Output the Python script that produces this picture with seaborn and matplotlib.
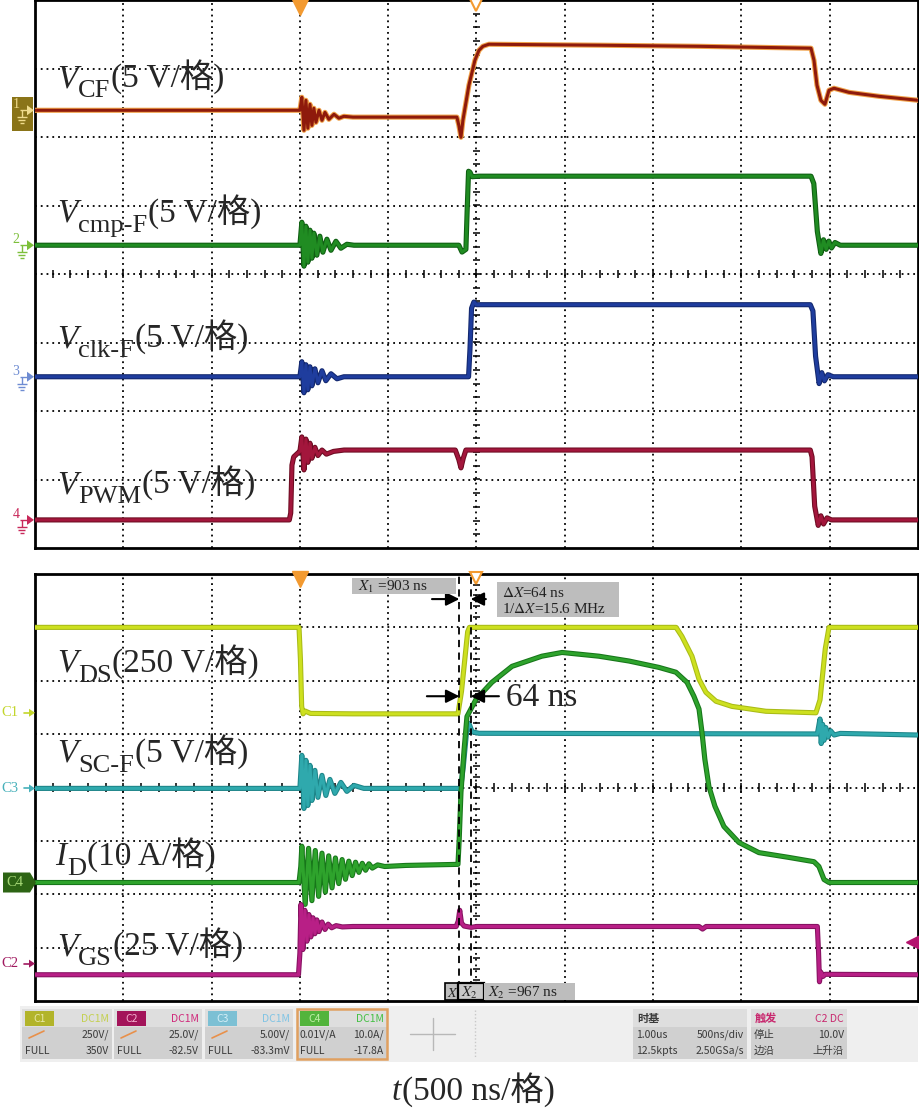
import numpy as np
import pandas as pd
import matplotlib
matplotlib.use("Agg")
import matplotlib.pyplot as plt
import matplotlib.patheffects as pe
from matplotlib.patches import Rectangle, Polygon
import seaborn as sns

sns.set_theme(style="white")
plt.rcParams["font.family"] = ["Liberation Serif", "Noto Sans CJK SC", "DejaVu Sans"]
plt.rcParams["mathtext.fontset"] = "stix"

# ------------------------------------------------------------------ data
# time in ns (0 = trigger), upper screen values in V (5 V/div)
cf_t = [-1500, -10, 0, 11, 23, 34, 45, 57, 68, 79, 91, 108, 125, 142, 164, 193, 221, 249, 300, 889,
        900, 912, 923, 957, 991, 1014, 1036, 1070, 1700, 2260, 2894, 2911, 2928, 2950, 2973, 2996,
        3024, 3109, 3279, 3500]
cf_v = [0, 0, 0, 0.95, -1.46, 0.73, -1.31, 0.44, -1.1, 0.15, -0.88, 0, -0.73, -0.15, -0.66, -0.29,
        -0.58, -0.44, -0.5, -0.5, -1.1, -1.97, -0.73, 1.83, 3.65, 4.38, 4.67, 4.82, 4.75, 4.67, 4.53,
        3.65, 1.83, 0.73, 0.44, 1.46, 1.61, 1.31, 1.02, 0.73]

cmp_t = [-1500, 0, 11, 23, 34, 45, 57, 68, 79, 96, 113, 130, 153, 176, 204, 232, 266, 306, 900, 918,
         940, 947, 955, 963, 975, 1014, 2894, 2910, 2930, 2950, 2965, 2980, 2995, 3010, 3030, 3060, 3500]
cmp_v = [0, 0, 1.68, -1.53, 1.39, -1.24, 1.1, -0.95, 0.88, -0.73, 0.66, -0.51, 0.44, -0.37, 0.29,
         -0.22, 0.07, 0, 0, -0.5, -0.3, 2.5, 5.4, 5.33, 5.0, 5.04, 5.04, 4.5, 1.0, -0.6, 0.4, -0.3,
         0.3, -0.2, 0.2, 0, 0]

clk_t = [-1500, 0, 11, 23, 34, 45, 57, 68, 85, 102, 125, 147, 176, 210, 249, 955, 963, 972, 985, 1000,
         2890, 2905, 2920, 2940, 2955, 2970, 2990, 3020, 3500]
clk_v = [0, 0, 1.1, -1.17, 0.88, -0.95, 0.73, -0.66, 0.58, -0.44, 0.44, -0.29, 0.22, -0.15, 0, 0,
         2.0, 5.0, 5.45, 5.26, 5.26, 4.8, 1.5, -0.5, 0.3, -0.3, 0.15, 0, 0]

pwm_t = [-1500, -60, -52, -45, -35, -10, 0, 11, 23, 34, 45, 57, 68, 85, 102, 125, 150, 190, 250, 880,
         900, 912, 925, 940, 2890, 2900, 2915, 2935, 2950, 2965, 2985, 3010, 3500]
pwm_v = [0, 0, 0.5, 4.0, 4.6, 4.9, 5.0, 6.06, 3.65, 5.9, 4.2, 5.6, 4.5, 5.3, 4.7, 5.1, 4.8, 5.0, 5.1,
         5.1, 4.4, 3.8, 4.5, 5.1, 5.1, 4.6, 1.0, -0.4, 0.3, -0.3, 0.15, 0, 0]

# lower screen
vds_t = [-1500, -5, 3, 10, 18, 30, 60, 300, 895, 915, 935, 950, 960, 2130, 2163, 2220, 2260, 2299,
         2356, 2446, 2639, 2922, 2945, 2975, 2996, 3500]
vds_v = [400, 400, 250, 30, -5, 8, -3, -5, -5, 100, 260, 380, 400, 400, 358, 265, 157, 96, 54, 30, 7,
         0, 60, 300, 400, 400]

vsc_t = [-1500, 0, 11, 23, 34, 45, 57, 68, 85, 102, 125, 147, 170, 198, 232, 266, 306, 362, 910, 925,
         945, 957, 975, 1014, 2930, 2945, 2952, 2960, 2968, 2978, 2990, 3005, 3025, 3060, 3500]
vsc_v = [0, 0, 3.1, -1.88, 2.63, -1.6, 2.16, -1.13, 1.69, -0.84, 1.22, -0.66, 0.84, -0.47, 0.56,
         -0.28, 0.28, 0, 0, 2.0, 5.5, 6.1, 5.3, 5.16, 5.1, 6.5, 4.2, 6.0, 4.5, 5.7, 4.8, 5.4, 5.0,
         5.15, 5.0]

id_t = [-1500, -5, 5, 11, 30, 49, 68, 87, 106, 125, 144, 163, 182, 201, 220, 239, 258, 277, 296, 315,
        334, 353, 372, 391, 410, 440, 480, 600, 895, 902, 912, 930, 946, 997, 1087, 1201, 1370, 1484,
        1693, 1863, 2033, 2129, 2192, 2231, 2260, 2277, 2293, 2316, 2350, 2401, 2486, 2599, 2769,
        2911, 2939, 2968, 2996, 3500]
id_v = [0, 0, 3.0, 6.8, -4.1, 6.4, -3.4, 6.0, -2.6, 5.5, -1.8, 5.0, -1.0, 4.6, -0.2, 4.3, 0.6, 4.0,
        1.3, 3.8, 1.9, 3.6, 2.3, 3.5, 2.7, 3.3, 3.0, 3.2, 3.4, 8.0, 16.9, 25.0, 31.1, 34.3, 37.5,
        40.5, 42.4, 43.1, 42.4, 41.5, 40.3, 39.4, 37.5, 34.9, 32.5, 28.1, 23.1, 18.0, 14.3, 10.5,
        7.5, 5.6, 4.7, 3.9, 3.0, 0.56, 0, 0]

vgs_t = [-1500, -8, 0, 6, 17, 28, 40, 51, 62, 74, 85, 96, 108, 125, 142, 160, 180, 205, 240, 300,
         885, 897, 905, 915, 930, 970, 1000, 2260, 2280, 2300, 2930, 2937, 2942, 2950, 2962, 2975, 3500]
vgs_v = [-5.2, -5.2, 5.0, 27.7, 6.6, 25.0, 10.5, 23.0, 12.5, 21.5, 14.0, 20.5, 15.0, 19.5, 16.0,
         18.5, 16.8, 17.8, 17.2, 17.4, 17.4, 20.0, 25.0, 19.0, 17.6, 17.0, 17.4, 17.4, 16.2, 17.4,
         17.4, 5.0, -8.5, -4.0, -6.0, -5.0, -5.2]

# cursor readings
X1_NS = 903
X2_NS = 967
DX_NS = 64
INV_DX_MHZ = 15.6

# labels
top_names = [("V", "CF", "(5 V/格)"), ("V", "cmp-F", "(5 V/格)"),
             ("V", "clk-F", "(5 V/格)"), ("V", "PWM", "(5 V/格)")]
bot_names = [("V", "DS", "(250 V/格)"), ("V", "SC-F", "(5 V/格)"),
             ("I", "D", "(10 A/格)"), ("V", "GS", "(25 V/格)")]
x_name = ("t", "", "(500 ns/格)")

ch_cards = [
    ("C1", "DC1M", "", "250V/", "FULL", "350V"),
    ("C2", "DC1M", "", "25.0V/", "FULL", "-82.5V"),
    ("C3", "DC1M", "", "5.00V/", "FULL", "-83.3mV"),
    ("C4", "DC1M", "0.01V/A", "10.0A/", "FULL", "-17.8A"),
]
tb_card = ("时基", "", "1.00us", "500ns/div", "12.5kpts", "2.50GSa/s")
trig_card = ("触发", "C2 DC", "停止", "10.0V", "边沿", "上升沿")

# ------------------------------------------------------------------ styling / layout
W, H = 920, 1115
T_MIN, T_MAX = -1500, 3500
fig = plt.figure(figsize=(W / 100, H / 100), dpi=100)
fig.patch.set_facecolor("white")


def rect(x0, y0, x1, y1):
    return [x0 / W, 1 - y1 / H, (x1 - x0) / W, (y1 - y0) / H]


ax_top = fig.add_axes(rect(35, 0, 918, 548))
ax_bot = fig.add_axes(rect(35, 574, 918, 1001))
ov = fig.add_axes([0, 0, 1, 1], zorder=10)
ov.set_xlim(0, W)
ov.set_ylim(H, 0)
ov.axis("off")

ORANGE = "#f39a30"


def screen(ax, thy, thx):
    ax.set_xlim(T_MIN, T_MAX)
    ax.set_ylim(-4, 4)
    ax.set_xticks([])
    ax.set_yticks([])
    ax.set_facecolor("white")
    for s in ax.spines.values():
        s.set_color("black")
        s.set_linewidth(2)
        s.set_visible(True)
    dot = dict(color="black", lw=1.3, ls=(0, (1, 2.2)), zorder=1)
    for x in np.arange(T_MIN + 500, T_MAX, 500):
        ax.axvline(x, **dot)
    for y in range(-3, 4):
        ax.axhline(y, **dot)
    ax.vlines(np.arange(T_MIN + 100, T_MAX, 100), -thy, thy, color="black", lw=1.1, zorder=1)
    ax.hlines(np.arange(-3.8, 3.9, 0.2), 1000 - thx, 1000 + thx, color="black", lw=1.1, zorder=1)
    ax.plot([0], [3.9], marker="v", ms=12, color=ORANGE, clip_on=False, zorder=8)
    ax.plot([1000], [3.92], marker="v", ms=9, mfc="white", mec=ORANGE, mew=1.5,
            clip_on=False, zorder=8)


screen(ax_top, 0.058, 22)
screen(ax_bot, 0.075, 22)


def trace(ax, t, v, scale, pos, color, edge, lw=2.2):
    df = pd.DataFrame({"t": t, "div": np.asarray(v, float) / scale + pos})
    sns.lineplot(data=df, x="t", y="div", ax=ax, color=color, lw=lw, estimator=None, sort=False,
                 legend=False, zorder=5,
                 path_effects=[pe.Stroke(linewidth=lw + 1.5, foreground=edge), pe.Normal()])
    ax.set_xlabel("")
    ax.set_ylabel("")


# ground positions in divisions
top_pos = [2.39, 0.42, -1.50, -3.59]
trace(ax_top, cf_t, cf_v, 5, top_pos[0], "#8e1a0c", "#f0a24a")
trace(ax_top, cmp_t, cmp_v, 5, top_pos[1], "#208c22", "#0f5e12")
trace(ax_top, clk_t, clk_v, 5, top_pos[2], "#1f3d9e", "#13286e")
trace(ax_top, pwm_t, pwm_v, 5, top_pos[3], "#a3163c", "#6d0c22")

bot_pos = {"C1": 1.40, "C2": -3.30, "C3": -0.0167, "C4": -1.78}
trace(ax_bot, vds_t, vds_v, 250, bot_pos["C1"], "#cde01f", "#a9bb17")
trace(ax_bot, vsc_t, vsc_v, 5, bot_pos["C3"], "#2fa9ad", "#1d8589")
trace(ax_bot, id_t, id_v, 10, bot_pos["C4"], "#2ea32c", "#17761a")
trace(ax_bot, vgs_t, vgs_v, 25, bot_pos["C2"], "#b81f86", "#861261")
for ax in (ax_top, ax_bot):
    ax.set_xlim(T_MIN, T_MAX)
    ax.set_ylim(-4, 4)

# trigger level marker (C2, 10 V)
ax_bot.plot([3480], [bot_pos["C2"] + 10 / 25], marker="<", ms=12, color="#b4146e",
            clip_on=False, zorder=8)

# cursors
dash = dict(color="black", lw=1.3, ls=(0, (4, 3)), zorder=6)
ax_bot.axvline(X1_NS, **dash)
ax_bot.axvline(X2_NS, **dash)
arw = dict(arrowstyle="-|>", color="black", lw=1.5, mutation_scale=20, shrinkA=0, shrinkB=0)
ax_bot.annotate("", xy=(X1_NS, 3.53), xytext=(748, 3.53), arrowprops=arw, zorder=9)
ax_bot.annotate("", xy=(X2_NS, 3.53), xytext=(1053, 3.53), arrowprops=arw, zorder=9)
ax_bot.annotate("", xy=(X1_NS, 1.71), xytext=(719, 1.71), arrowprops=arw, zorder=9)
ax_bot.annotate("", xy=(X2_NS, 1.71), xytext=(1127, 1.71), arrowprops=arw, zorder=9)
ax_bot.text(1167, 1.52, f"{DX_NS} ns", fontsize=24, family=["Liberation Serif"],
            va="baseline", ha="left", zorder=9)


def px(ax, t, y):
    return ov.transData.inverted().transform(ax.transData.transform((t, y)))


# cursor read-out boxes (pixel overlay)
GRAY = "#bdbdbd"
ov.add_patch(Rectangle((352, 578), 104, 16, fc=GRAY, ec="none", zorder=20))
ov.text(358, 591, f"$X_1$ ={X1_NS} ns", fontsize=11, va="baseline", ha="left", color="#222",
        zorder=21)
ov.add_patch(Rectangle((497, 582), 122, 35, fc=GRAY, ec="none", zorder=20))
ov.text(502, 597, rf"$\Delta X$={DX_NS} ns", fontsize=11, va="baseline", ha="left",
        color="#222", zorder=21)
ov.text(502, 613, rf"1/$\Delta X$={INV_DX_MHZ} MHz", fontsize=11, va="baseline", ha="left",
        color="#222", zorder=21)
ov.add_patch(Rectangle((445, 983), 13, 17, fc=GRAY, ec="black", lw=1.2, zorder=20))
ov.text(447, 997, "$X$", fontsize=10, va="baseline", ha="left", color="#222", zorder=21,
        clip_on=True)
ov.add_patch(Rectangle((458, 983), 26, 17, fc="#c8c8c8", ec="black", lw=1.6, zorder=20))
ov.text(461, 997, "$X_2$", fontsize=11, va="baseline", ha="left", color="#222", zorder=21)
ov.add_patch(Rectangle((484, 983), 91, 17, fc=GRAY, ec="none", zorder=20))
ov.text(488, 997, f"$X_2$ ={X2_NS} ns", fontsize=11, va="baseline", ha="left", color="#222",
        zorder=21)


# big channel labels
def unit_label(x, y, main, sub, rest, fs=24, sfs=19, drop=7.5):
    t1 = ov.text(x, y, main, fontsize=fs, fontstyle="italic", family=["Liberation Serif"],
                 va="baseline", ha="left", zorder=30)
    prev = t1
    if sub:
        prev = ov.annotate(sub, xy=(1, y), xycoords=(t1, "data"), xytext=(0.5, -drop),
                           textcoords="offset points", fontsize=sfs, family=["Liberation Serif"],
                           va="baseline", ha="left", zorder=30)
    ov.annotate(rest, xy=(1, y), xycoords=(prev, "data"), xytext=(0.5, 0),
                textcoords="offset points", fontsize=fs,
                family=["Liberation Serif", "Noto Sans CJK SC"], va="baseline", ha="left",
                zorder=30)


for (m, s, r), yb in zip(top_names, [87, 222, 347, 493]):
    unit_label(57, yb, m, s, r)
for (m, s, r), yb in zip(bot_names, [672, 762, 865, 955]):
    unit_label(57 if m == "V" else 55, yb, m, s, r)
unit_label(392, 1100, *x_name)


# channel ground markers, upper screen
def gnd_marker(y, num, color, box=None):
    lc = "#f0dc8c" if box else color
    if box:
        ov.add_patch(Rectangle((12, y - 13), 21, 34, fc=box, ec="none", zorder=20))
    ov.text(16, y + 1, num, fontsize=10, color=lc, family=["Liberation Serif"], ha="center",
            va="bottom", zorder=21)
    kw = dict(color=lc, lw=1, zorder=21, solid_capstyle="butt")
    ov.plot([20, 28], [y, y], **kw)
    ov.plot([22, 22], [y, y + 7], **kw)
    ov.plot([17, 27], [y + 7, y + 7], **kw)
    ov.plot([18.5, 25.5], [y + 10, y + 10], **kw)
    ov.plot([20, 24], [y + 13, y + 13], **kw)
    ov.add_patch(Polygon([[27, y - 5], [34, y], [27, y + 5]], closed=True, fc=lc, ec="none",
                         zorder=21))


top_colors = ["#f0dc8c", "#7cbf3a", "#6e8cd2", "#c8285a"]
for i, (p, c) in enumerate(zip(top_pos, top_colors)):
    yp = px(ax_top, T_MIN, p)[1]
    gnd_marker(yp, str(i + 1), c, box="#8a7418" if i == 0 else None)


# channel markers, lower screen
def c_marker(name, color, y):
    ov.text(1, y, name, fontsize=10.5, color=color, family=["Liberation Serif"], ha="left",
            va="center", zorder=21)
    ov.plot([24, 31], [y, y], color=color, lw=1.2, zorder=21)
    ov.add_patch(Polygon([[29, y - 4], [35, y], [29, y + 4]], closed=True, fc=color, ec="none",
                         zorder=21))


c_marker("C1", "#c3d62c", px(ax_bot, T_MIN, bot_pos["C1"])[1])
c_marker("C3", "#46b0ba", px(ax_bot, T_MIN, bot_pos["C3"])[1])
c_marker("C2", "#a0195f", px(ax_bot, T_MIN, bot_pos["C2"])[1])
y4 = px(ax_bot, T_MIN, bot_pos["C4"])[1]
ov.add_patch(Polygon([[3, y4 - 10], [30, y4 - 10], [36, y4], [30, y4 + 10], [3, y4 + 10]],
                     closed=True, fc="#2d6414", ec="none", zorder=20))
ov.text(6, y4, "C4", fontsize=10.5, color="#a6d876", family=["Liberation Serif"], ha="left",
        va="center", zorder=21)

# ------------------------------------------------------------------ status bar
UI = ["Noto Sans CJK SC", "DejaVu Sans"]
TXT = "#3a3a3a"
ov.add_patch(Rectangle((20, 1006), 898, 56, fc="#efefef", ec="none", zorder=15))


def card(x0, x1, head_l, head_r, r2l, r2r, r3l, r3r, tag_fc=None, head_c=TXT, right_c=TXT,
         tag_tc="white", border=None, icon=False, bold=False):
    ov.add_patch(Rectangle((x0, 1009), x1 - x0, 50, fc="#d0d0d0", ec="none", zorder=16))
    ov.add_patch(Rectangle((x0, 1009), x1 - x0, 18, fc="#dedede", ec="none", zorder=16))
    if border:
        ov.add_patch(Rectangle((x0, 1009), x1 - x0, 50, fc="none", ec=border, lw=1.8, zorder=19))
    if tag_fc:
        ov.add_patch(Rectangle((x0 + 3, 1011), 29, 15, fc=tag_fc, ec="none", zorder=17))
        ov.text(x0 + 17.5, 1018.5, head_l, fontsize=7.5, color=tag_tc, family=UI, ha="center",
                va="center", zorder=18)
    else:
        ov.text(x0 + 4, 1018.5, head_l, fontsize=8, color=head_c, family=UI, ha="left",
                va="center", zorder=18, fontweight="bold" if bold else "normal")
    ov.text(x1 - 3, 1018.5, head_r, fontsize=7.5, color=right_c, family=UI, ha="right",
            va="center", zorder=18)
    if icon:
        ov.plot([x0 + 7, x0 + 22], [1038, 1031], color="#e8904a", lw=1.2, zorder=18)
    ov.text(x0 + 3, 1035, r2l, fontsize=7.5, color=TXT, family=UI, ha="left", va="center",
            zorder=18)
    ov.text(x1 - 3, 1035, r2r, fontsize=7.5, color=TXT, family=UI, ha="right", va="center",
            zorder=18)
    ov.text(x0 + 3, 1051, r3l, fontsize=7.5, color=TXT, family=UI, ha="left", va="center",
            zorder=18)
    ov.text(x1 - 3, 1051, r3r, fontsize=7.5, color=TXT, family=UI, ha="right", va="center",
            zorder=18)


card_x = [(22, 112), (114, 202), (205, 293), (297, 387)]
tag_fcs = ["#b2b42a", "#a3145a", "#7cc0d4", "#52b43c"]
tag_tcs = ["#e8e8a8", "#f4b0d0", "#d4eef6", "#c0f0a8"]
cpl_cs = ["#c4d050", "#d0287a", "#80c4e4", "#44c044"]
for (x0, x1), info, fc, tc, cc in zip(card_x, ch_cards, tag_fcs, tag_tcs, cpl_cs):
    name, cpl, r2l, r2r, r3l, r3r = info
    card(x0, x1, name, cpl, r2l, r2r, r3l, r3r, tag_fc=fc, tag_tc=tc, right_c=cc,
         border="#e0a060" if name == "C4" else None, icon=(r2l == ""))

# empty "+" slot and separator
ov.plot([410, 455], [1034, 1034], color="#b8b8b8", lw=1, zorder=17)
ov.plot([433, 433], [1018, 1050], color="#b8b8b8", lw=1, zorder=17)
ov.plot([475, 475], [1010, 1058], color="#c8c8c8", lw=1, ls=(0, (1, 1.5)), zorder=17)

card(633, 747, *tb_card, bold=True)
card(751, 847, *trig_card, head_c="#c8286e", right_c="#c8286e", bold=True)

fig.savefig("out.png", dpi=100)
